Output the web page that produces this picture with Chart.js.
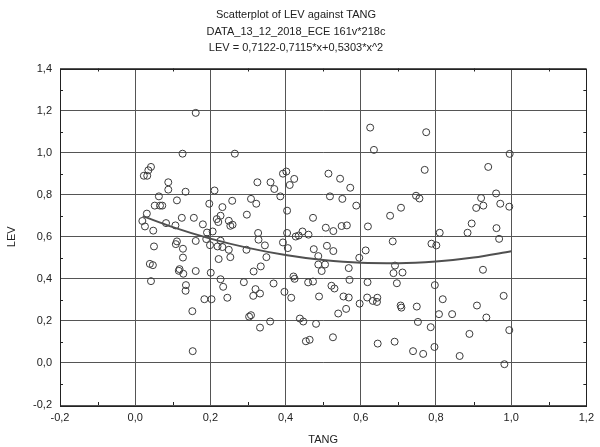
<!DOCTYPE html>
<html>
<head>
<meta charset="utf-8">
<script src="https://cdn.jsdelivr.net/npm/chart.js@4"></script>
<style>
    html, body { margin: 0; padding: 0; background: #fff; }
</style>
</head>
<body>
<canvas id="levChart" width="600" height="447"></canvas>
<script>
// ── Datos ─────────────────────────────────────────────────────────

const titleLines = [
    'Scatterplot of LEV against TANG',
    'DATA_13_12_2018_ECE 161v*218c',
    'LEV = 0,7122-0,7115*x+0,5303*x^2'
];

const tangValues = [
    0.161, 0.126, 0.265, 0.042, 0.035, 0.023, 0.032, 0.088, 0.088, 0.134,
    0.211, 0.063, 0.111, 0.258, 0.197, 0.052, 0.066, 0.072, 0.232, 0.031,
    0.019, 0.026, 0.048, 0.082, 0.107, 0.124, 0.156, 0.180, 0.217, 0.227,
    0.221, 0.206, 0.191, 0.249, 0.253, 0.259, 0.625, 0.635, 0.393, 0.402,
    0.514, 0.545, 0.423, 0.411, 0.325, 0.360, 0.370, 0.572, 0.386, 0.518,
    0.551, 0.308, 0.322, 0.588, 0.404, 0.297, 0.678, 0.473, 0.507, 0.527,
    0.549, 0.563, 0.619, 0.327, 0.404, 0.427, 0.435, 0.445, 0.461, 0.774,
    0.996, 0.770, 0.939, 0.747, 0.756, 0.707, 0.920, 0.960, 0.907, 0.926,
    0.971, 0.995, 0.895, 0.961, 0.810, 0.884, 0.050, 0.111, 0.108, 0.127,
    0.161, 0.189, 0.227, 0.199, 0.219, 0.232, 0.249, 0.253, 0.222, 0.127,
    0.039, 0.047, 0.118, 0.116, 0.128, 0.161, 0.201, 0.042, 0.227, 0.234,
    0.135, 0.134, 0.184, 0.203, 0.245, 0.152, 0.153, 0.685, 0.328, 0.345,
    0.296, 0.393, 0.406, 0.349, 0.475, 0.510, 0.527, 0.487, 0.487, 0.505,
    0.496, 0.613, 0.596, 0.568, 0.570, 0.618, 0.687, 0.691, 0.315, 0.334,
    0.289, 0.320, 0.314, 0.332, 0.368, 0.397, 0.415, 0.421, 0.424, 0.460,
    0.473, 0.489, 0.522, 0.530, 0.554, 0.568, 0.561, 0.540, 0.597, 0.617,
    0.632, 0.643, 0.644, 0.303, 0.308, 0.332, 0.359, 0.438, 0.447, 0.481,
    0.454, 0.464, 0.526, 0.645, 0.690, 0.788, 0.801, 0.968, 0.711, 0.925,
    0.696, 0.797, 0.818, 0.980, 0.706, 0.708, 0.749, 0.909, 0.808, 0.843,
    0.934, 0.752, 0.786, 0.995, 0.889, 0.739, 0.766, 0.796, 0.863, 0.982
];

const levValues = [
    1.189, 0.995, 0.995, 0.932, 0.916, 0.890, 0.890, 0.859, 0.824, 0.814,
    0.820, 0.792, 0.773, 0.771, 0.757, 0.748, 0.748, 0.748, 0.741, 0.710,
    0.675, 0.649, 0.629, 0.665, 0.654, 0.690, 0.690, 0.659, 0.684, 0.700,
    0.670, 0.625, 0.620, 0.676, 0.652, 0.657, 1.119, 1.013, 0.900, 0.910,
    0.900, 0.876, 0.875, 0.846, 0.859, 0.859, 0.827, 0.833, 0.792, 0.792,
    0.780, 0.780, 0.757, 0.748, 0.724, 0.705, 0.700, 0.690, 0.643, 0.627,
    0.651, 0.654, 0.649, 0.618, 0.618, 0.601, 0.606, 0.625, 0.610, 1.097,
    0.994, 0.918, 0.932, 0.795, 0.782, 0.738, 0.784, 0.806, 0.737, 0.748,
    0.757, 0.743, 0.663, 0.641, 0.619, 0.619, 0.554, 0.578, 0.565, 0.543,
    0.580, 0.589, 0.581, 0.560, 0.554, 0.551, 0.538, 0.503, 0.494, 0.501,
    0.471, 0.465, 0.446, 0.438, 0.424, 0.437, 0.429, 0.389, 0.398, 0.362,
    0.370, 0.343, 0.303, 0.303, 0.310, 0.246, 0.056, 0.578, 0.586, 0.559,
    0.538, 0.573, 0.546, 0.503, 0.541, 0.557, 0.532, 0.508, 0.468, 0.468,
    0.437, 0.535, 0.500, 0.451, 0.395, 0.384, 0.427, 0.463, 0.435, 0.459,
    0.384, 0.351, 0.319, 0.330, 0.378, 0.338, 0.310, 0.411, 0.400, 0.383,
    0.387, 0.316, 0.367, 0.354, 0.316, 0.311, 0.257, 0.235, 0.282, 0.311,
    0.295, 0.290, 0.310, 0.220, 0.227, 0.168, 0.197, 0.211, 0.197, 0.186,
    0.103, 0.110, 0.122, 0.092, 0.101, 0.567, 0.559, 0.590, 0.430, 0.443,
    0.379, 0.370, 0.303, 0.319, 0.273, 0.263, 0.268, 0.273, 0.232, 0.232,
    0.216, 0.195, 0.170, 0.156, 0.138, 0.056, 0.043, 0.076, 0.033, -0.006
];

// Curva de ajuste, puntos leídos sobre la línea
const fitX = [0.02, 0.1, 0.2, 0.3, 0.4, 0.5, 0.6, 0.7, 0.8, 0.9, 1.0];
const fitY = [0.698, 0.646, 0.591, 0.547, 0.513, 0.489, 0.476, 0.474, 0.482, 0.501, 0.531];

// ── Estilo compartido ────────────────────────────────────────────

const _font = { family: '"Liberation Sans", Arial, sans-serif', size: 11 };
const _txt = '#222';
const _gridColor = '#555';

function _fmt(v) {
    return (Math.round(v * 10) / 10).toFixed(1).replace('.', ',');
}

// Marcas menores hacia dentro (cada 0,1) en los cuatro bordes
const minorTicks = {
    id: 'minorTicks',
    afterDatasetsDraw(chart) {
        const { ctx, chartArea: a, scales } = chart;
        const len = 3;
        ctx.save();
        ctx.strokeStyle = '#222';
        ctx.lineWidth = 1;
        ctx.beginPath();
        const xt = scales.x.ticks;
        for (let i = 0; i < xt.length - 1; i++) {
            const px = Math.round(scales.x.getPixelForValue((xt[i].value + xt[i + 1].value) / 2)) + 0.5;
            ctx.moveTo(px, a.top); ctx.lineTo(px, a.top + len);
            ctx.moveTo(px, a.bottom); ctx.lineTo(px, a.bottom - len);
        }
        const yt = scales.y.ticks;
        for (let i = 0; i < yt.length - 1; i++) {
            const py = Math.round(scales.y.getPixelForValue((yt[i].value + yt[i + 1].value) / 2)) + 0.5;
            ctx.moveTo(a.left, py); ctx.lineTo(a.left + len, py);
            ctx.moveTo(a.right, py); ctx.lineTo(a.right - len, py);
        }
        ctx.stroke();
        // marco
        ctx.strokeRect(Math.round(a.left) + 0.5, Math.round(a.top) + 0.5,
            Math.round(a.right - a.left), Math.round(a.bottom - a.top));
        ctx.restore();
    }
};

// ── Gráfico ──────────────────────────────────────────────────────

const points = tangValues.map((x, i) => ({ x: x, y: levValues[i] }));
const fitPoints = fitX.map((x, i) => ({ x: x, y: fitY[i] }));

new Chart(document.getElementById('levChart').getContext('2d'), {
    type: 'scatter',
    data: {
        datasets: [
            {
                label: 'Fit',
                data: fitPoints,
                showLine: true,
                borderColor: '#505050',
                borderWidth: 2,
                pointRadius: 0,
                cubicInterpolationMode: 'monotone',
                fill: false
            },
            {
                label: 'LEV',
                data: points,
                pointStyle: 'circle',
                pointRadius: 3.5,
                pointBorderWidth: 1,
                pointBorderColor: '#3a3a3a',
                pointBackgroundColor: 'rgba(0,0,0,0)'
            }
        ]
    },
    options: {
        responsive: false,
        animation: false,
        layout: { padding: { left: 0, right: 8, top: 0, bottom: 0 } },
        scales: {
            x: {
                type: 'linear',
                min: -0.2,
                max: 1.2,
                afterFit: s => { s.height = 42; },
                ticks: {
                    stepSize: 0.2,
                    color: _txt,
                    font: _font,
                    padding: 6,
                    maxRotation: 0,
                    callback: v => _fmt(v)
                },
                grid: { color: _gridColor, drawTicks: false },
                border: { display: false },
                title: { display: true, text: 'TANG', color: _txt, font: _font, padding: { top: 6, bottom: 0 } }
            },
            y: {
                type: 'linear',
                min: -0.2,
                max: 1.4,
                afterFit: s => { s.width = 60; },
                ticks: {
                    stepSize: 0.2,
                    color: _txt,
                    font: _font,
                    padding: 8,
                    callback: v => _fmt(v)
                },
                grid: { color: _gridColor, drawTicks: false },
                border: { display: false },
                title: { display: true, text: 'LEV', color: _txt, font: _font, padding: { top: 5, bottom: 0 } }
            }
        },
        plugins: {
            legend: { display: false },
            tooltip: { enabled: false },
            title: {
                display: true,
                text: titleLines,
                color: _txt,
                font: Object.assign({}, _font, { weight: 'normal', lineHeight: 1.5 }),
                padding: { top: 7, bottom: 12 }
            }
        }
    },
    plugins: [minorTicks]
});
</script>
</body>
</html>
